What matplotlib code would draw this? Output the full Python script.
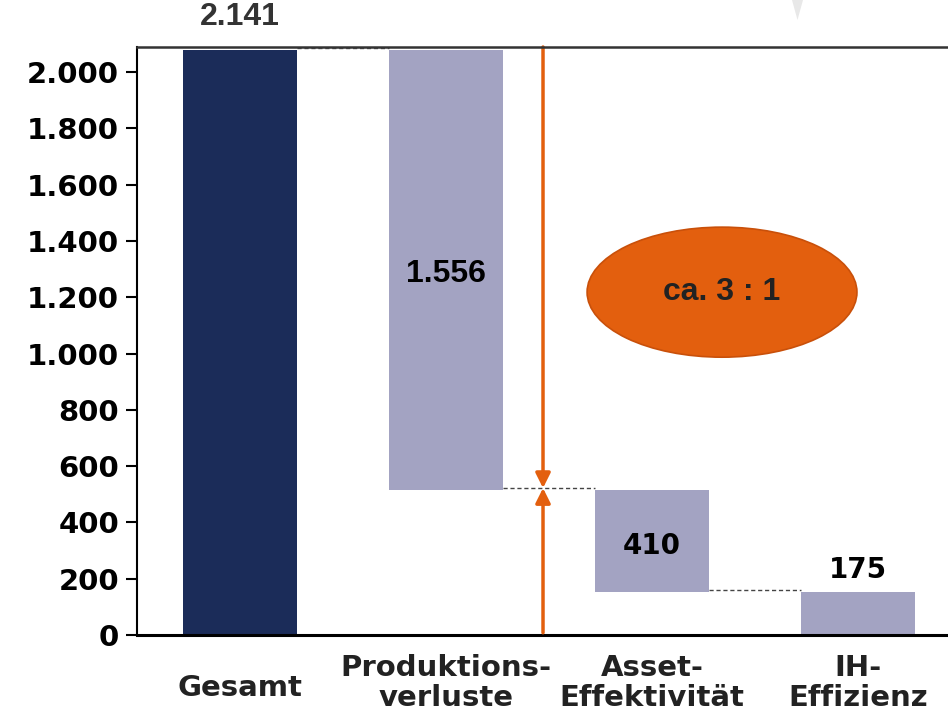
import numpy as np
import matplotlib.pyplot as plt
from matplotlib.patches import Ellipse, Polygon

# categories and values (bar extents)
categories = ["Gesamt", "Produktions-\nverluste", "Asset-\nEffektivität", "IH-\nEffizienz"]
bar_bottom = [0, 515, 153, 0]
bar_top = [2078, 2078, 515, 153]
value_labels = ["2.141", "1.556", "410", "175"]
label_y = [2195, 1282, 316, 231]
yticks = np.arange(0, 2001, 200)

dark = '#1b2c59'
light = '#a3a3c2'
orange = '#e35f0e'

plt.rcParams['font.family'] = ['DejaVu Sans']

fig = plt.figure(figsize=(9.48, 7.14), dpi=100)
ax = fig.add_axes([137 / 948, 1 - 635 / 714, 1 - 137 / 948, (635 - 47) / 714])

x = np.arange(len(categories))
heights = np.array(bar_top) - np.array(bar_bottom)
colors = [dark, light, light, light]
ax.bar(x, heights, bottom=bar_bottom, width=0.553, color=colors, zorder=2)

ax.set_xlim(-0.5, 3.437)
ax.set_ylim(0, 2089)

# connector lines
ax.plot([0.2765, 1 - 0.2765], [2085, 2085], ls=(0, (3, 2)), color='#555555', lw=1, zorder=1)
ax.plot([1.2765, 2 - 0.2765], [522, 522], ls=(0, (3, 2)), color='#444444', lw=1)
ax.plot([2.2765, 3 - 0.2765], [160, 160], ls=(0, (3, 2)), color='#444444', lw=1)

# orange double arrow
arr_x = 1.471
for start in (2089, 8):
    ax.annotate('', xy=(arr_x, 522), xytext=(arr_x, start),
                arrowprops=dict(arrowstyle='-|>', color=orange, lw=2.5, mutation_scale=22,
                                shrinkA=0, shrinkB=0))

# ellipse
ax.add_patch(Ellipse((2.34, 1218), 1.31, 462, facecolor=orange, edgecolor='#c9500a',
                     lw=1.2, zorder=3))
ax.text(2.34, 1218, "ca. 3 : 1", ha='center', va='center', fontsize=23,
        fontweight='bold', color='#222222', family=['Liberation Sans', 'DejaVu Sans'], zorder=4)

# value labels
for i, (lab, ly) in enumerate(zip(value_labels, label_y)):
    col = '#333333' if i == 0 else 'black'
    if i < 2:
        fam, fs = ['Liberation Sans', 'DejaVu Sans'], 23
    else:
        fam, fs = ['DejaVu Sans'], 20
    ax.text(x[i], ly, lab, ha='center', va='center', fontsize=fs, fontweight='bold',
            color=col, family=fam, clip_on=False)

# category labels
for i, c in enumerate(categories):
    ypos = -0.090 if '\n' not in c else -0.0816
    ax.text(x[i], ypos, c, transform=ax.get_xaxis_transform(), ha='center', va='center',
            fontsize=21, fontweight='bold', color='#222222', linespacing=1.07)

# grey wedge at the top edge
fig.add_artist(Polygon([[792 / 948, 1.0], [803 / 948, 1.0], [797.5 / 948, 1 - 20 / 714]],
                       closed=True, transform=fig.transFigure, facecolor='#e8e8e8',
                       edgecolor='none'))

ax.set_xticks([])
ax.set_yticks(yticks)
ax.set_yticklabels([f"{v:,}".replace(',', '.') for v in yticks], fontsize=21,
                   fontweight='bold')
ax.tick_params(axis='y', length=8, width=1.5, pad=5)

ax.spines['right'].set_visible(False)
ax.spines['top'].set_color('#333333')
ax.spines['top'].set_linewidth(1.8)
ax.spines['left'].set_linewidth(1.5)
ax.spines['bottom'].set_linewidth(2.2)
ax.spines['top'].set_zorder(5)

fig.savefig('out.png', dpi=100)
